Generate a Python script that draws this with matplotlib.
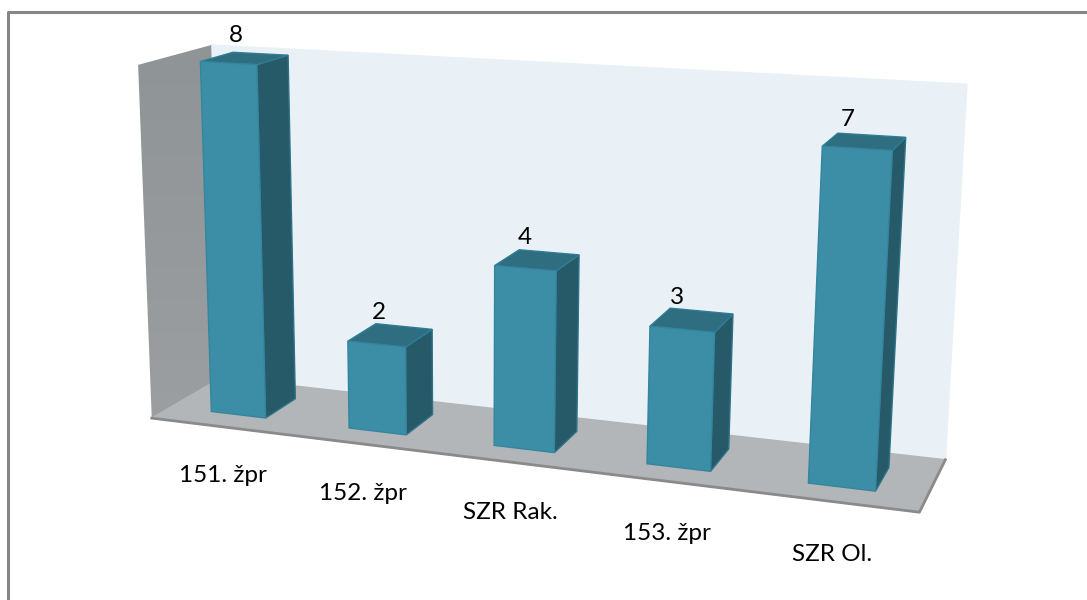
import numpy as np
import matplotlib
matplotlib.use("Agg")
import matplotlib.pyplot as plt

categories = ["151. žpr", "152. žpr", "SZR Rak.", "153. žpr", "SZR Ol."]
values = [8, 2, 4, 3, 7]
y_max = 8

plt.rcParams["font.family"] = ["Lato", "DejaVu Sans"]

bar_width = 0.4
z_front, z_back = 0.27, 0.73


def bar_x(i):
    return i + 0.5 - bar_width / 2, i + 0.5 + bar_width / 2


# calibration of the perspective: (category, value, depth) -> image pixel
calibration = [
    ((0, 0, 0), (154, 416)), ((5, 0, 0), (919, 516)), ((5, 0, 1), (946, 457)), ((0, 0, 1), (216, 381)),
    ((0, y_max, 0), (134, 65)), ((5, y_max, 1), (967, 84)), ((0, y_max, 1), (215, 45)),
] * 6
calibration += [
    ((bar_x(0)[0], 8, z_front), (201, 61)), ((bar_x(0)[1], 8, z_front), (259, 66)),
    ((bar_x(0)[1], 8, z_back), (288, 56)), ((bar_x(0)[0], 0, z_front), (218, 408)),
    ((bar_x(0)[1], 0, z_front), (273, 413)), ((bar_x(0)[1], 0, z_back), (300, 396)),
    ((bar_x(2)[0], 4, z_front), (495, 264)), ((bar_x(2)[1], 4, z_front), (557, 270)),
    ((bar_x(2)[1], 4, z_back), (579, 254)),
    ((bar_x(3)[0], 3, z_front), (649, 325)), ((bar_x(3)[1], 3, z_front), (716, 333)),
    ((bar_x(3)[1], 3, z_back), (732, 314)),
    ((bar_x(4)[0], 7, z_front), (821, 146)), ((bar_x(4)[1], 7, z_front), (892, 151)),
    ((bar_x(4)[1], 7, z_back), (904, 138)), ((bar_x(4)[0], 0, z_front), (808, 482)),
    ((bar_x(4)[1], 0, z_front), (875, 491)), ((bar_x(4)[1], 0, z_back), (888, 467)),
]


def fit_camera(pairs):
    """Solve the 3x4 perspective matrix from point pairs."""
    rows = []
    for (x, y, z), (u, v) in pairs:
        rows.append([x, y, z, 1, 0, 0, 0, 0, -u * x, -u * y, -u * z, -u])
        rows.append([0, 0, 0, 0, x, y, z, 1, -v * x, -v * y, -v * z, -v])
    return np.linalg.svd(np.array(rows, dtype=float))[2][-1].reshape(3, 4)


camera = fit_camera(calibration)


def project(x, y, z):
    u, v, w = camera @ np.array([x, y, z, 1.0])
    return u / w, v / w


def face(points, color, edge=None, zorder=2):
    xy = [project(*p) for p in points]
    ax.fill(*zip(*xy), facecolor=color, edgecolor=edge or color, linewidth=1.0, zorder=zorder)


fig = plt.figure(figsize=(10.87, 6.0), dpi=100)
ax = fig.add_axes([0, 0, 1, 1])
ax.set_xlim(0, 1087)
ax.set_ylim(600, 0)
ax.axis("off")

# chart frame
ax.plot([7.5, 7.5, 1087], [600, 12, 12], color="#868686", linewidth=2.2, zorder=1)

# walls and floor
face([(0, 0, 1), (5, 0, 1), (5, y_max, 1), (0, y_max, 1)], "#e9f1f7")
left_wall = [project(*p) for p in [(0, 0, 0), (0, 0, 1), (0, y_max, 1), (0, y_max, 0)]]
patch = plt.Polygon(left_wall, transform=ax.transData, facecolor="none", edgecolor="none")
ax.add_patch(patch)
shade = ax.imshow(np.linspace(0, 1, 64).reshape(-1, 1), extent=(130, 220, 420, 44),
                  cmap=matplotlib.colors.LinearSegmentedColormap.from_list("w", ["#8f9496", "#9c9ea0"]),
                  aspect="auto", zorder=2)
shade.set_clip_path(patch)
ax.set_xlim(0, 1087)
ax.set_ylim(600, 0)
face([(0, 0, 0), (5, 0, 0), (5, 0, 1), (0, 0, 1)], "#b3b6b8", zorder=3)
edge = [project(*p) for p in [(0, 0, 0), (5, 0, 0), (5, 0, 1)]]
ax.plot(*zip(*edge), color="#8a8a8a", linewidth=2.0, zorder=3)

# bars, back faces first so the front face sits on top
for i, (name, val) in enumerate(zip(categories, values)):
    x0, x1 = bar_x(i)
    face([(x1, 0, z_front), (x1, 0, z_back), (x1, val, z_back), (x1, val, z_front)],
         "#265a69", "#2f7388", zorder=4)
    face([(x0, val, z_front), (x1, val, z_front), (x1, val, z_back), (x0, val, z_back)],
         "#2f6d80", "#2f7d94", zorder=4)
    face([(x0, 0, z_front), (x1, 0, z_front), (x1, val, z_front), (x0, val, z_front)],
         "#3c8ea7", "#35859e", zorder=5)

    tx, ty = project(i + 0.5, val, 0.5)
    ax.text(tx - 9 - 2 * i, ty - 12, str(val), ha="center", va="bottom", fontsize=17.5, color="black", zorder=6)
    lx, ly = project(i + 0.5, 0, 0)
    ax.text(lx + 3 - i, ly + 49 + i, name, ha="center", va="center", fontsize=17.5, color="black", zorder=6)

fig.savefig("out.png", dpi=100)
